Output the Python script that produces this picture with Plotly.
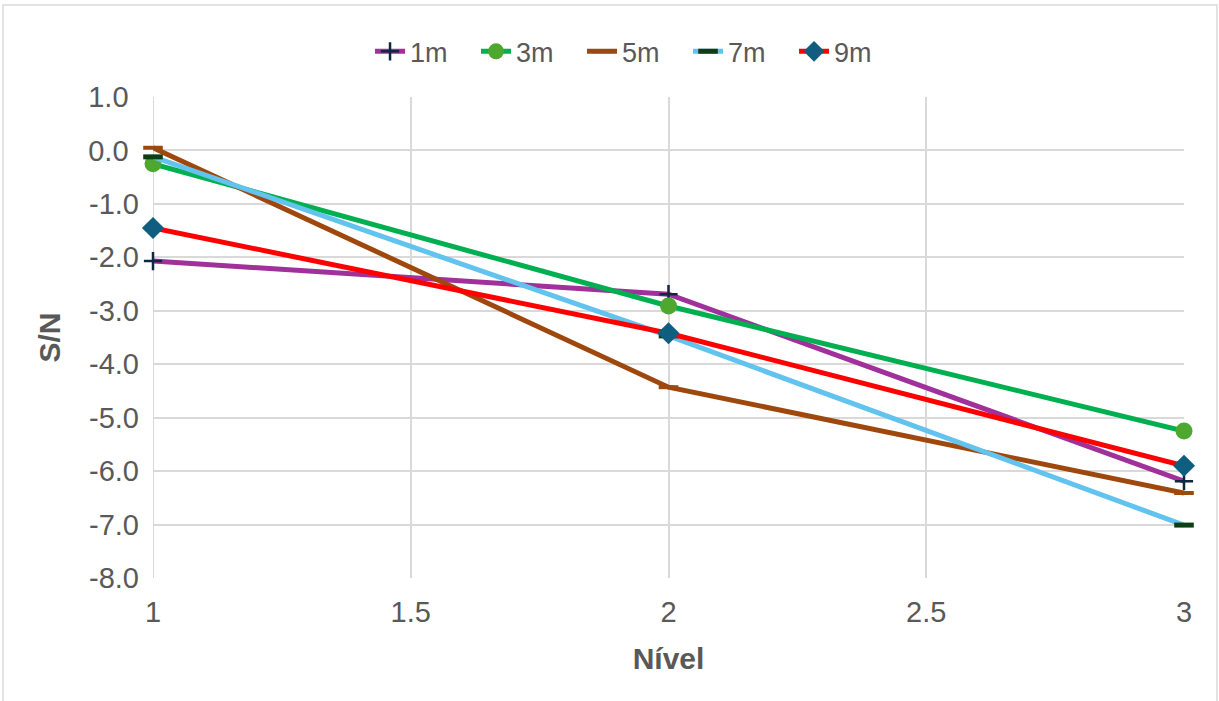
import plotly.graph_objects as go

# Factor levels and signal-to-noise ratios per distance
niveis = [1, 2, 3]
sn_1m = [-2.07, -2.69, -6.19]
sn_3m = [-0.25, -2.91, -5.25]
sn_5m = [0.05, -4.43, -6.41]
sn_7m = [-0.12, -3.47, -7.01]
sn_9m = [-1.45, -3.42, -5.90]

y_ticks = [1.0, 0.0, -1.0, -2.0, -3.0, -4.0, -5.0, -6.0, -7.0, -8.0]
x_ticks = [1, 1.5, 2, 2.5, 3]


def y_label(v):
    # non-negative values carry a trailing pad, as in the "0.0_)" number format
    return f"{v:.1f}" if v < 0 else f"{v:.1f}\u00a0\u200a"


series = [
    ("1m", sn_1m, "#A0309A", dict(symbol="cross-thin", size=13, color="#0E2841",
                                  line=dict(color="#0E2841", width=2.5))),
    ("3m", sn_3m, "#00B050", dict(symbol="circle", size=17, color="#4EA72E",
                                  line=dict(width=0))),
    ("5m", sn_5m, "#9E480E", dict(symbol="line-ew", size=14, color="#9E480E",
                                  line=dict(color="#9E480E", width=4))),
    ("7m", sn_7m, "#61C3EE", dict(symbol="line-ew", size=14, color="#0E3E13",
                                  line=dict(color="#0E3E13", width=5))),
    ("9m", sn_9m, "#FF0000", dict(symbol="diamond", size=17, color="#0F5E80",
                                  line=dict(width=0))),
]

fig = go.Figure()
for name, vals, lc, mk in series:
    fig.add_trace(go.Scatter(
        x=niveis, y=vals, name=name, mode="lines+markers",
        line=dict(color=lc, width=5), marker=mk, cliponaxis=False,
    ))

font_family = "Liberation Sans, Arial, sans-serif"
fig.update_layout(
    width=1219, height=701,
    margin=dict(l=153, r=35, t=97, b=123, autoexpand=False),
    paper_bgcolor="white", plot_bgcolor="white",
    font=dict(family=font_family, color="#595959"),
    showlegend=True,
    legend=dict(orientation="h", x=0.2105, xanchor="left", y=1.094, yanchor="middle",
                font=dict(size=27, color="#595959"),
                entrywidth=61, entrywidthmode="pixels",
                bgcolor="rgba(0,0,0,0)", traceorder="normal"),
    xaxis=dict(range=[1, 3], tickvals=x_ticks, ticktext=[str(v) for v in x_ticks],
               showgrid=True, gridcolor="#D9D9D9", gridwidth=1.5,
               showline=False, zeroline=False, ticklabelstandoff=14,
               tickfont=dict(size=29, color="#595959"), ticks="",
               title=dict(text="<b>Nível</b>", font=dict(size=30, color="#595959"),
                          standoff=20)),
    yaxis=dict(range=[-8, 1], tickvals=y_ticks, ticktext=[y_label(v) for v in y_ticks],
               showgrid=True, gridcolor="#D9D9D9", gridwidth=1.5,
               showline=False, zeroline=False, ticklabelstandoff=13,
               tickfont=dict(size=29, color="#595959"), ticks="",
               title=dict(text="<b>S/N</b>", font=dict(size=30, color="#595959"),
                          standoff=18)),
)

# Left axis line at x = 1
fig.add_shape(type="line", xref="x", yref="y", x0=1, x1=1, y0=-8, y1=1,
              line=dict(color="#D9D9D9", width=2), layer="below")

# Chart-area frame
fig.add_shape(type="rect", xref="paper", yref="paper",
              x0=-0.1455, x1=1.032, y0=-0.27, y1=1.1913,
              line=dict(color="#D9D9D9", width=1.5), layer="below")

fig.write_html("out.html")
